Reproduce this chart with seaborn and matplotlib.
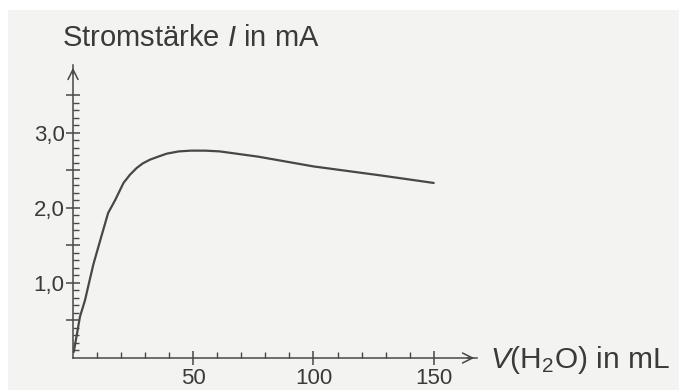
import numpy as np
import pandas as pd
import seaborn as sns
import matplotlib.pyplot as plt
from matplotlib.patches import Rectangle
from matplotlib.ticker import FixedLocator

# values
volume = [0.3, 1.7, 2.9, 5, 6.3, 8.5, 11, 14.6, 17.5, 21, 23.7, 26.5, 29,
          32, 35.4, 39, 44, 49, 55, 61, 77, 100, 128, 150]
current = [0.08, 0.33, 0.55, 0.77, 0.95, 1.25, 1.53, 1.93, 2.1, 2.33, 2.44,
           2.53, 2.59, 2.64, 2.68, 2.72, 2.75, 2.76, 2.76, 2.75, 2.68, 2.55,
           2.43, 2.33]
x_ticks = [50, 100, 150]
x_minor = [10, 20, 30, 40, 60, 70, 80, 90, 110, 120, 130, 140]
y_ticks = [0.5, 1.0, 1.5, 2.0, 2.5, 3.0, 3.5]
y_labels = ['', '1,0', '', '2,0', '', '3,0', '']
y_minor = [round(0.1 * k, 1) for k in range(1, 36) if k % 5 != 0]

sns.set_style('white')
plt.rcParams['font.family'] = ['Liberation Sans', 'DejaVu Sans']
plt.rcParams['mathtext.fontset'] = 'custom'
plt.rcParams['mathtext.rm'] = 'Liberation Sans'
plt.rcParams['mathtext.it'] = 'Liberation Sans:italic'

ink = '#474747'
fig = plt.figure(figsize=(6.79, 3.90), dpi=100, facecolor='white')
# scanned paper area
fig.patches.append(Rectangle((8 / 679, 0), 1, 1 - 10 / 390,
                             transform=fig.transFigure,
                             facecolor='#f3f3f1', edgecolor='none',
                             zorder=-10))

ax = fig.add_axes([73 / 679, 32 / 390, 404 / 679, 293 / 390])
ax.patch.set_alpha(0)

data = pd.DataFrame({'V': volume, 'I': current})
sns.lineplot(data=data, x='V', y='I', ax=ax, color=ink, linewidth=1.6)

ax.set_xlim(0, 168)
ax.set_ylim(0, 3.9)
for side in ['top', 'right']:
    ax.spines[side].set_visible(False)
for side in ['left', 'bottom']:
    ax.spines[side].set_color(ink)
    ax.spines[side].set_linewidth(1.1)

ax.xaxis.set_major_locator(FixedLocator(x_ticks))
ax.xaxis.set_minor_locator(FixedLocator(x_minor))
ax.set_xticklabels([str(t) for t in x_ticks])
ax.yaxis.set_minor_locator(FixedLocator(y_minor))
ax.set_yticks(y_ticks)
ax.set_yticklabels(y_labels)

ax.tick_params(axis='both', which='both', bottom=True, left=True)
ax.tick_params(axis='both', which='major', direction='inout', length=10,
               width=1.1, color=ink, labelsize=16, labelcolor='#3a3a3a')
ax.tick_params(axis='x', which='major', pad=2)
ax.tick_params(axis='y', which='major', pad=1)
ax.tick_params(axis='both', which='minor', direction='in', length=4,
               width=1.0, color=ink)

ax.set_xlabel('')
ax.set_ylabel('')

# axis arrows
ax.annotate('', xy=(1.0, 0), xytext=(0.97, 0), xycoords='axes fraction',
            arrowprops=dict(arrowstyle='->', color=ink, lw=1.1,
                            mutation_scale=18))
ax.annotate('', xy=(0, 1.0), xytext=(0, 0.96), xycoords='axes fraction',
            arrowprops=dict(arrowstyle='->', color=ink, lw=1.1,
                            mutation_scale=18))

fig.text(62 / 679, 1 - 38 / 390, 'Stromstärke $I$ in mA', fontsize=21,
         color='#3a3a3a', va='center', ha='left')
fig.text(490 / 679, 1 - 360 / 390, '$V$(H$_2$O) in mL', fontsize=21.5,
         color='#3a3a3a', va='center', ha='left')

fig.savefig('out.png', dpi=100, facecolor=fig.get_facecolor())
